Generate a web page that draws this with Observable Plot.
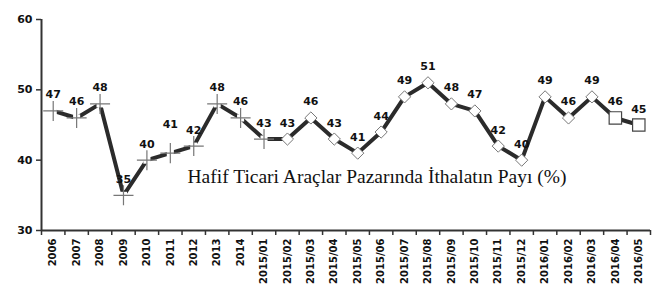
<!DOCTYPE html>
<html>
<head>
<meta charset="utf-8">
<script src="https://cdn.jsdelivr.net/npm/d3@7"></script>
<script src="https://cdn.jsdelivr.net/npm/@observablehq/plot@0.6"></script>
<style>
  html, body { margin: 0; padding: 0; background: #fff; }
</style>
</head>
<body>
<div id="chart"></div>
<script>
const categories = ["2006","2007","2008","2009","2010","2011","2012","2013","2014",
  "2015/01","2015/02","2015/03","2015/04","2015/05","2015/06","2015/07","2015/08",
  "2015/09","2015/10","2015/11","2015/12","2016/01","2016/02","2016/03","2016/04","2016/05"];
const values = [47,46,48,35,40,41,42,48,46,43,43,46,43,41,44,49,51,48,47,42,40,49,46,49,46,45];
const markerTypes = ["plus","plus","plus","plus","plus","plus","plus","plus","plus","plus",
  "diamond","diamond","diamond","diamond","diamond","diamond","diamond","diamond","diamond",
  "diamond","diamond","diamond","diamond","diamond","square","square"];
const yTicks = [30, 40, 50, 60];
const title = "Hafif Ticari Araçlar Pazarında İthalatın Payı (%)";

const data = categories.map((c, i) => ({i, c, v: values[i], m: markerTypes[i]}));
const boundaries = d3.range(-0.5, categories.length, 1);

const chart = Plot.plot({
  width: 660,
  height: 298,
  marginLeft: 41,
  marginRight: 10,
  marginTop: 19,
  marginBottom: 68,
  style: {fontFamily: "'DejaVu Sans', Verdana, sans-serif", fontWeight: "bold", fontSize: "10px", color: "#111", background: "#fff"},
  x: {domain: [-0.5, categories.length - 0.5]},
  y: {domain: [30, 60]},
  marks: [
    Plot.axisY({ticks: yTicks, tickSize: 5, tickPadding: 4, label: null, fontSize: 11, fontWeight: "bold", stroke: "#333", strokeWidth: 1.5}),
    Plot.axisX({ticks: boundaries, tickSize: 5, tickFormat: () => "", label: null, stroke: "#333", strokeWidth: 1.5}),
    Plot.axisX({ticks: d3.range(categories.length), tickSize: 0, tickPadding: 8, tickRotate: -90, tickFormat: i => categories[i], label: null, fontSize: 10, fontWeight: "bold"}),
    Plot.ruleX([-0.5], {stroke: "#333", strokeWidth: 2}),
    Plot.ruleY([30], {stroke: "#333", strokeWidth: 2}),
    Plot.line(data, {x: "i", y: "v", stroke: "#2b2b2b", strokeWidth: 4}),
    Plot.dot(data.filter(d => d.m === "plus"), {x: "i", y: "v", r: 4, symbol: "square", fill: "#fff", stroke: "none"}),
    Plot.dot(data.filter(d => d.m === "plus"), {x: "i", y: "v", r: 6.5, symbol: "plus", fill: "none", stroke: "#777", strokeWidth: 1.2}),
    Plot.dot(data.filter(d => d.m === "diamond"), {x: "i", y: "v", r: 5.5, symbol: "diamond2", fill: "#fff", stroke: "#777", strokeWidth: 1}),
    Plot.dot(data.filter(d => d.m === "square"), {x: "i", y: "v", r: 7, symbol: "square", fill: "#fff", stroke: "#444", strokeWidth: 1.2}),
    Plot.text(data.filter(d => d.i !== 5), {x: "i", y: "v", text: d => String(d.v), dy: -16, fontSize: 11, fontWeight: "bold", fill: "#111"}),
    Plot.text(data.filter(d => d.i === 5), {x: "i", y: "v", text: d => String(d.v), dy: -29, fontSize: 11, fontWeight: "bold", fill: "#111"}),
    Plot.text([title], {frameAnchor: "top", dx: 31, dy: 150, fontFamily: "'Liberation Serif', 'Times New Roman', serif", fontWeight: "normal", fontSize: 19.5, fill: "#111"})
  ]
});
document.getElementById("chart").appendChild(chart);
</script>
</body>
</html>
